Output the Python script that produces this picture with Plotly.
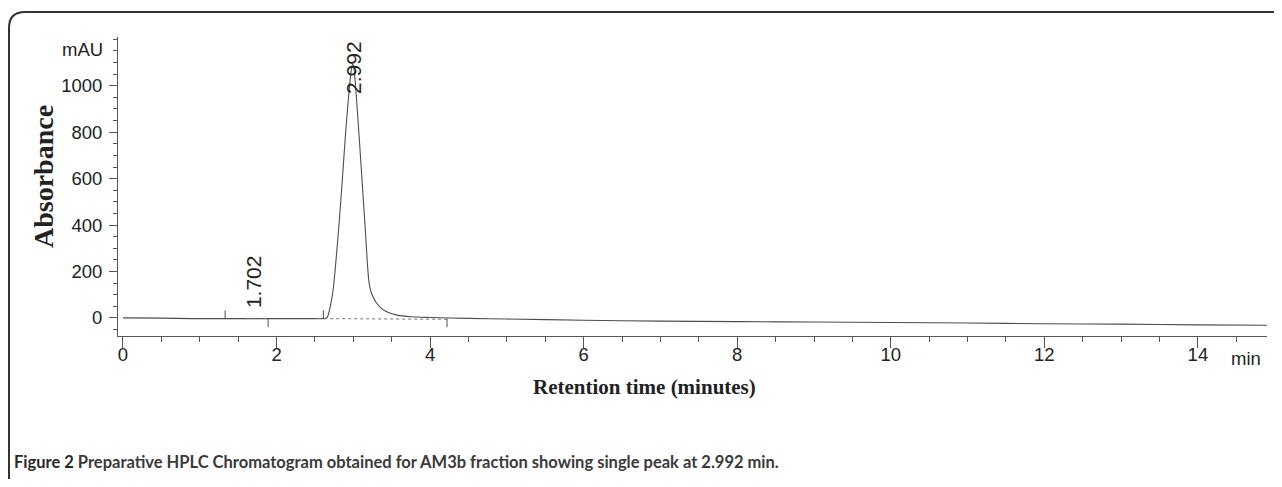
import plotly.graph_objects as go

# ---- data ----
time_min = [0.0, 0.5, 0.9, 1.3, 1.7, 2.0, 2.4, 2.62, 2.66, 2.70, 2.74, 2.78, 2.82, 2.86,
            2.90, 2.94, 2.97, 2.99, 3.01, 3.04, 3.08, 3.12, 3.16, 3.18, 3.20, 3.22, 3.25,
            3.30, 3.36, 3.45, 3.57, 3.75, 4.0, 4.5, 5.0, 6.0, 7.0, 8.0, 9.0, 10.0, 11.0,
            12.0, 13.0, 14.0, 14.9]
absorbance = [0, -1, -3, -3, -3, -3, -3, -3, 2, 50, 130, 270, 430, 610, 800, 960, 1060,
              1095, 1070, 950, 760, 560, 360, 250, 165, 125, 95, 65, 42, 24, 12, 5, 2, -2,
              -5, -10, -14, -16, -18, -20, -22, -25, -27, -30, -32]

peak_times = [1.702, 2.992]
peak_labels = ["1.702", "2.992"]
peak_label_y = [157, 1080]

dotted_baseline_t = [[1.60, 1.89], [2.62, 4.22]]
dotted_baseline_y = [[-3, -3], [-3, -6]]
marker_up_t = [1.33, 2.61]
marker_down_t = [1.89, 4.22]

y_major = [0, 200, 400, 600, 800, 1000]
y_minor = [v for v in range(-50, 1201, 50) if v not in y_major]
x_major = [0, 2, 4, 6, 8, 10, 12, 14]

caption_bold = "Figure 2"
caption_rest = " Preparative HPLC Chromatogram obtained for AM3b fraction showing single peak at 2.992 min."

# ---- layout geometry (page body has an 8px offset) ----
OFF = 8
W, H = 1266, 471
ML, MR, MT = 110, 7, 29
MB = H - (336 - OFF)
PW, PH = W - ML - MR, H - MT - MB


def px(x):
    return (x - OFF - ML) / PW


def py(y):
    return (H - MB - (y - OFF)) / PH


LINE = "#4d4d4d"
AX = "#555555"
TXT = "#222222"
TICKFONT = dict(family="Liberation Sans, Arial", size=18.5, color=TXT)

fig = go.Figure()

fig.add_trace(go.Scatter(x=time_min, y=absorbance, mode="lines",
                         line=dict(color=LINE, width=1.1, shape="spline", smoothing=0.6),
                         hoverinfo="skip"))

for tt, yy in zip(dotted_baseline_t, dotted_baseline_y):
    fig.add_trace(go.Scatter(x=tt, y=yy, mode="lines",
                             line=dict(color="#777777", width=1, dash="dot"), hoverinfo="skip"))

up_x, up_y = [], []
for t in marker_up_t:
    up_x += [t, t, None]
    up_y += [-3, 32, None]
fig.add_trace(go.Scatter(x=up_x, y=up_y, mode="lines", line=dict(color=LINE, width=1)))

dn_x, dn_y = [], []
for t in marker_down_t:
    dn_x += [t, t, None]
    dn_y += [-3, -40, None]
fig.add_trace(go.Scatter(x=dn_x, y=dn_y, mode="lines", line=dict(color=LINE, width=1)))

for t, lab, yv in zip(peak_times, peak_labels, peak_label_y):
    fig.add_annotation(x=t, y=yv, text=lab, textangle=-90, showarrow=False,
                       xanchor="center", yanchor="middle",
                       font=dict(family="Liberation Sans, Arial", size=21, color=TXT))

# mAU and min unit labels
fig.add_annotation(x=px(105), y=py(50), xref="paper", yref="paper", text="mAU",
                   showarrow=False, xanchor="right", yanchor="middle", font=TICKFONT)
fig.add_annotation(x=px(1229), y=py(358), xref="paper", yref="paper", text="min",
                   showarrow=False, xanchor="left", yanchor="middle", font=TICKFONT)

# axis titles
fig.add_annotation(x=px(43), y=py(176), xref="paper", yref="paper", text="<b>Absorbance</b>",
                   textangle=-90, showarrow=False, xanchor="center", yanchor="middle",
                   font=dict(family="Liberation Serif, Times New Roman", size=28, color=TXT))
fig.add_annotation(x=px(644), y=py(387), xref="paper", yref="paper",
                   text="<b>Retention time (minutes)</b>", showarrow=False,
                   xanchor="center", yanchor="middle",
                   font=dict(family="Liberation Serif, Times New Roman", size=21, color=TXT))

# caption
fig.add_annotation(x=px(12), y=py(462), xref="paper", yref="paper",
                   text="<b>" + caption_bold + "</b><b style='color:#3a3a3a'>" + caption_rest + "</b>",
                   showarrow=False, xanchor="left", yanchor="middle",
                   font=dict(family="Lato, Open Sans, sans-serif", size=16.5, color="#2a2a2a"))

# frame (rounded corner, open to right and bottom)
fig.add_shape(type="path", xref="paper", yref="paper",
              path=(f"M {px(9)},{py(500)} L {px(9)},{py(28)} "
                    f"Q {px(9)},{py(12)} {px(25)},{py(12)} L {px(1300)},{py(12)}"),
              line=dict(color="#333333", width=2))

fig.update_layout(
    width=W, height=H, margin=dict(l=ML, r=MR, t=MT, b=MB),
    paper_bgcolor="white", plot_bgcolor="white", showlegend=False,
    xaxis=dict(range=[-0.065, 14.9], tickmode="array", tickvals=x_major,
               ticktext=[str(v) for v in x_major], showgrid=False, zeroline=False,
               showline=True, linecolor=AX, linewidth=1, ticks="outside", ticklen=11,
               tickcolor=AX, tickfont=TICKFONT, ticklabelstandoff=-9,
               minor=dict(dtick=0.5, tick0=0, ticks="outside", ticklen=5, tickcolor=AX)),
    yaxis=dict(range=[-78, 1210], tickmode="array", tickvals=y_major,
               ticktext=[str(v) for v in y_major], showgrid=False, zeroline=False,
               showline=True, linecolor=AX, linewidth=1, ticks="outside", ticklen=8,
               tickcolor=AX, tickfont=TICKFONT, ticklabelstandoff=3,
               minor=dict(tickmode="array", tickvals=y_minor, ticks="outside", ticklen=4,
                          tickcolor=AX)),
)

fig.write_html("out.html")
